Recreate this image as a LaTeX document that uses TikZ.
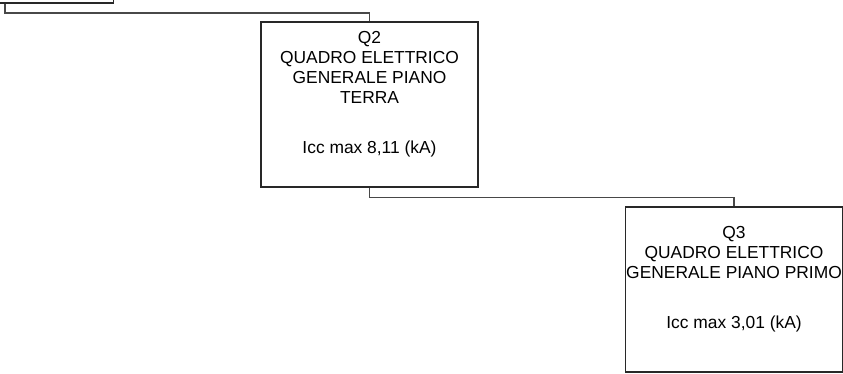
\documentclass[tikz,border=0pt]{standalone}
\usepackage{fontspec}
\setmainfont{Liberation Sans}
\usepackage{tikz}
\usetikzlibrary{positioning}
\definecolor{bordoquadro}{RGB}{40,40,40}

\begin{document}
\begin{tikzpicture}[
      quadro/.style={draw=bordoquadro, line width=0.6pt, rectangle,
                     minimum width=4.34cm, minimum height=3.3cm,
                     inner sep=0pt, align=center,
                     font=\fontsize{9.9}{11.4}\selectfont},
      linea/.style={draw=bordoquadro!85, line width=0.6pt}]
    \useasboundingbox (0,0) rectangle (16.86,-7.48);
    % quadri
    \node[quadro] (Q1) at (0.1,1.59) {};
    \node[quadro] (Q2) at (7.39,-2.09)
      {Q2\\QUADRO ELETTRICO\\GENERALE PIANO\\TERRA\\[17pt]Icc max 8,11 (kA)\\[2pt]\mbox{}};
    \node[quadro] (Q3) at (14.68,-5.79)
      {Q3\\QUADRO ELETTRICO\\GENERALE PIANO PRIMO\\[17pt]Icc max 3,01 (kA)\\[2pt]\mbox{}};
    % collegamenti
    \foreach \a/\b in {Q1/Q2, Q2/Q3} {
      \draw[linea] (\a.south) -- ++(0,-0.19) -| (\b.north);
    }
  \end{tikzpicture}
\end{document}
